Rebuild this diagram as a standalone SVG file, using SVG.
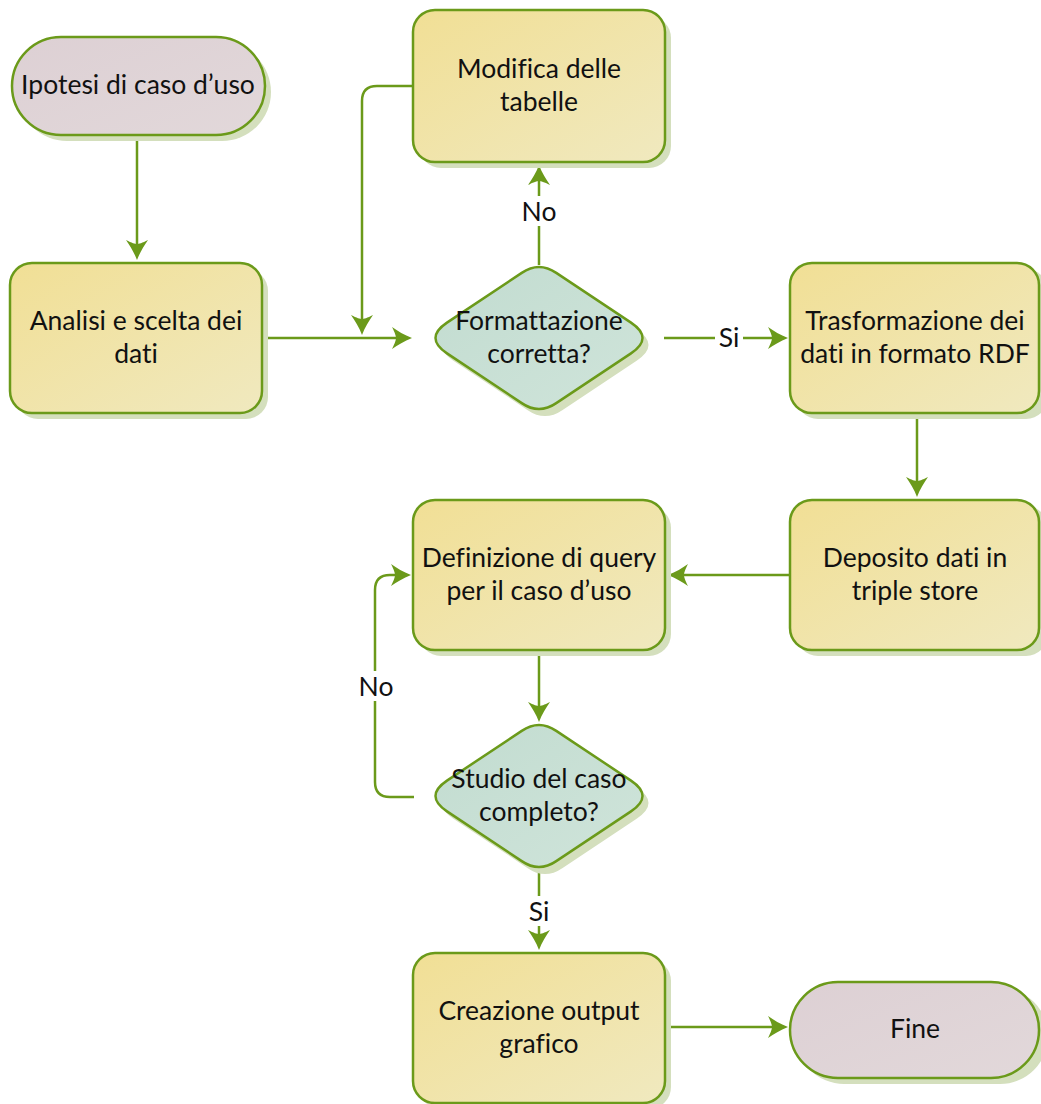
<svg xmlns="http://www.w3.org/2000/svg" width="1041" height="1104" viewBox="0 0 1041 1104">
  <defs>
    <linearGradient id="gProc" x1="0" y1="0" x2="1" y2="1">
      <stop offset="0" stop-color="#f1df95"/>
      <stop offset="1" stop-color="#f0e9bf"/>
    </linearGradient>
    <linearGradient id="gTerm" x1="0" y1="0" x2="1" y2="1">
      <stop offset="0" stop-color="#ddd0d4"/>
      <stop offset="1" stop-color="#e2d8da"/>
    </linearGradient>
    <linearGradient id="gDec" x1="0" y1="0" x2="1" y2="1">
      <stop offset="0" stop-color="#c2dcd0"/>
      <stop offset="1" stop-color="#cfe4da"/>
    </linearGradient>
    <marker id="arrow" viewBox="-22 -12 24 24" markerWidth="24" markerHeight="24" refX="-6" refY="0" orient="auto" markerUnits="userSpaceOnUse">
      <path d="M0,0 C-8,-3 -14,-7 -20,-11 C-17,-5 -16,-2 -16,0 C-16,2 -17,5 -20,11 C-14,7 -8,3 0,0 Z" fill="#6b9a1a"/>
    </marker>
    <!-- decision shape with softened corners -->
    <path id="diamond" d="M556.25,272.85 L631,322.6 Q654,338 631,353.4 L556.25,403.15 Q539,415 521.75,403.15 L447,353.4 Q424,338 447,322.6 L521.75,272.85 Q539,261 556.25,272.85 Z"/>
  </defs>
  <style>
    .shadow { fill: #d4dfbd; stroke: none; }
    .proc { fill: url(#gProc); stroke: #6b9a1a; stroke-width: 2.5; }
    .term { fill: url(#gTerm); stroke: #6b9a1a; stroke-width: 2.5; }
    .dec { fill: url(#gDec); stroke: #6b9a1a; stroke-width: 2.5; }
    text { font-family: "Lato", "Open Sans", "DejaVu Sans", sans-serif; font-size: 26.5px; fill: #111; text-anchor: middle; font-variant-ligatures: none; }
    .conn { fill: none; stroke: #6b9a1a; stroke-width: 2.5; }
    .lbl-bg { fill: #ffffff; }
  </style>

  <!-- Connectors -->
  <g id="connectors">
    <path class="conn" d="M137,137 L137,254" marker-end="url(#arrow)"/>
    <path class="conn" d="M262,338 L406,338" marker-end="url(#arrow)"/>
    <path class="conn" d="M413,86 L377,86 Q362,86 362,101 L362,329" marker-end="url(#arrow)"/>
    <path class="conn" d="M539,265 L539,171" marker-end="url(#arrow)"/>
    <path class="conn" d="M664,338 L782,338" marker-end="url(#arrow)"/>
    <path class="conn" d="M917,413 L917,491" marker-end="url(#arrow)"/>
    <path class="conn" d="M790,575 L674,575" marker-end="url(#arrow)"/>
    <path class="conn" d="M539,650 L539,716" marker-end="url(#arrow)"/>
    <path class="conn" d="M414,797 L390,797 Q375,797 375,782 L375,590 Q375,575 390,575 L405,575" marker-end="url(#arrow)"/>
    <path class="conn" d="M539,870 L539,944" marker-end="url(#arrow)"/>
    <path class="conn" d="M665,1027 L782,1027" marker-end="url(#arrow)"/>
    <!-- labels -->
    <rect class="lbl-bg" x="520" y="196" width="38" height="30"/>
    <text x="539" y="221">No</text>
    <rect class="lbl-bg" x="715" y="323" width="28" height="30"/>
    <text x="729" y="347">Si</text>
    <rect class="lbl-bg" x="356" y="671" width="40" height="30"/>
    <text x="376" y="696">No</text>
    <rect class="lbl-bg" x="525" y="896" width="28" height="30"/>
    <text x="539" y="921">Si</text>
  </g>

  <!-- Start terminal -->
  <g id="n-ipotesi">
    <rect class="shadow" x="18" y="43" width="253" height="98" rx="49"/>
    <rect class="term" x="12" y="37" width="253" height="98" rx="49"/>
    <text x="138" y="94">Ipotesi di caso d’uso</text>
  </g>

  <g id="n-analisi">
    <rect class="shadow" x="16" y="269" width="252" height="150" rx="22"/>
    <rect class="proc" x="10" y="263" width="252" height="150" rx="22"/>
    <text x="136" y="330">Analisi e scelta dei</text>
    <text x="136" y="363">dati</text>
  </g>

  <g id="n-modifica">
    <rect class="shadow" x="419" y="16" width="252" height="152" rx="22"/>
    <rect class="proc" x="413" y="10" width="252" height="152" rx="22"/>
    <text x="539" y="78">Modifica delle</text>
    <text x="539" y="111">tabelle</text>
  </g>

  <g id="n-formattazione">
    <use href="#diamond" class="shadow" transform="translate(6,7)"/>
    <use href="#diamond" class="dec"/>
    <text x="539" y="330">Formattazione</text>
    <text x="539" y="363">corretta?</text>
  </g>

  <g id="n-trasformazione">
    <rect class="shadow" x="796" y="269" width="252" height="150" rx="22"/>
    <rect class="proc" x="790" y="263" width="249" height="150" rx="22"/>
    <text x="915" y="330">Trasformazione dei</text>
    <text x="915" y="363">dati in formato RDF</text>
  </g>

  <g id="n-deposito">
    <rect class="shadow" x="796" y="506" width="252" height="150" rx="22"/>
    <rect class="proc" x="790" y="500" width="249" height="150" rx="22"/>
    <text x="915" y="567">Deposito dati in</text>
    <text x="915" y="600">triple store</text>
  </g>

  <g id="n-definizione">
    <rect class="shadow" x="419" y="506" width="252" height="150" rx="22"/>
    <rect class="proc" x="413" y="500" width="252" height="150" rx="22"/>
    <text x="539" y="567">Definizione di query</text>
    <text x="539" y="600">per il caso d’uso</text>
  </g>

  <g id="n-studio" transform="translate(0,458)">
    <use href="#diamond" class="shadow" transform="translate(6,7)"/>
    <use href="#diamond" class="dec"/>
    <text x="539" y="330">Studio del caso</text>
    <text x="539" y="363">completo?</text>
  </g>

  <g id="n-creazione">
    <rect class="shadow" x="419" y="959" width="252" height="150" rx="22"/>
    <rect class="proc" x="413" y="953" width="252" height="150" rx="22"/>
    <text x="539" y="1020">Creazione output</text>
    <text x="539" y="1053">grafico</text>
  </g>

  <g id="n-fine">
    <rect class="shadow" x="796" y="988" width="252" height="96" rx="48"/>
    <rect class="term" x="790" y="982" width="249" height="96" rx="48"/>
    <text x="915" y="1038">Fine</text>
  </g>
</svg>
